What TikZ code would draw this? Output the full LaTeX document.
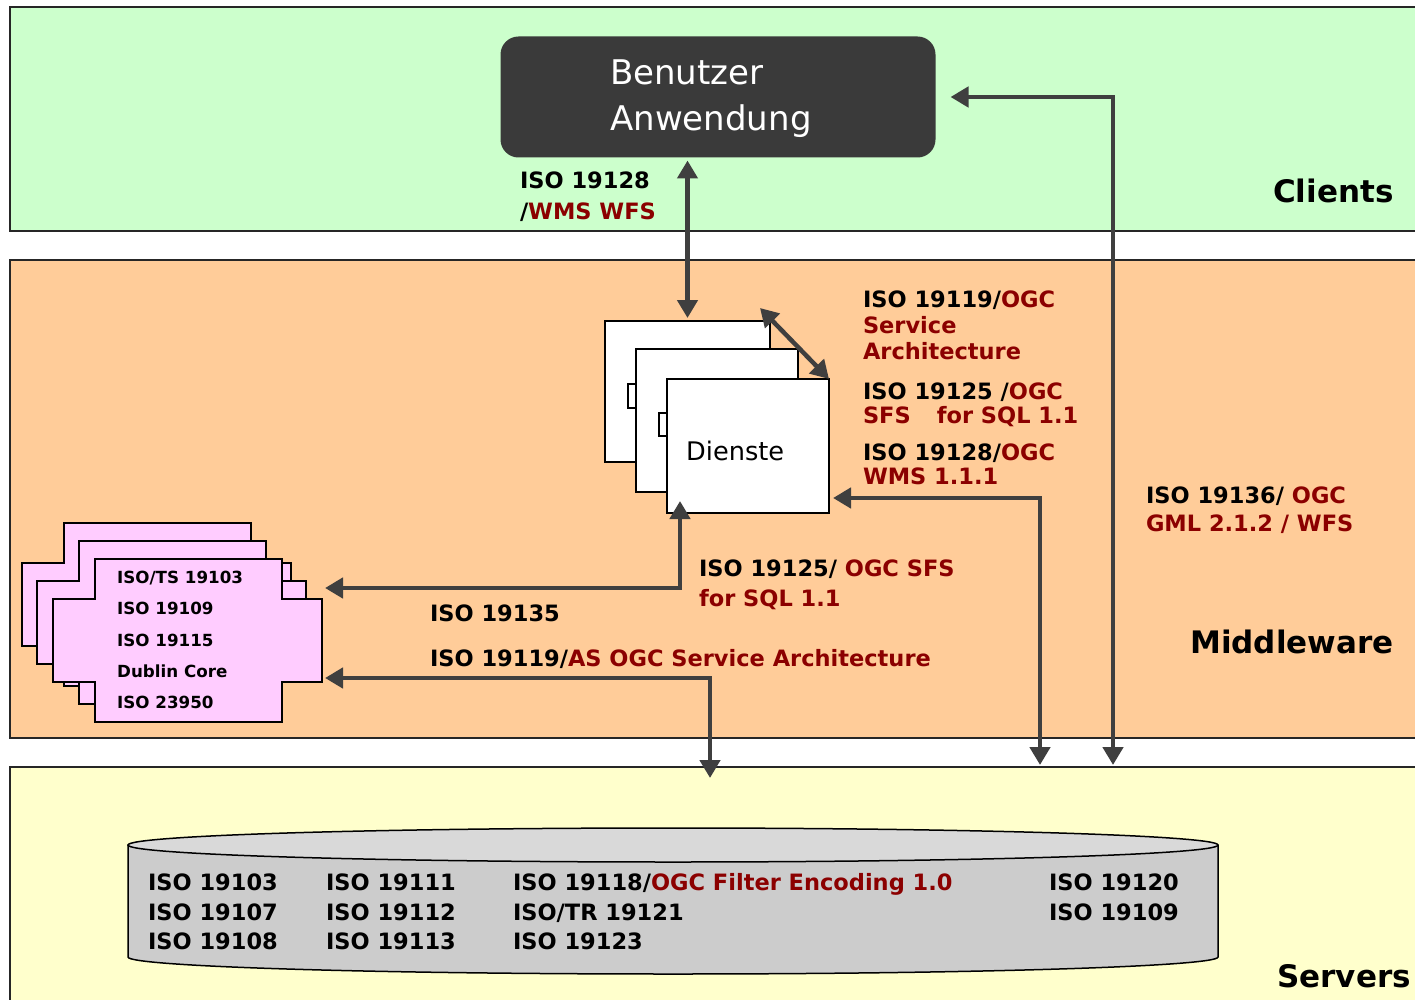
\documentclass[tikz,border=0pt]{standalone}
\usepackage{fontspec}
\setmainfont{DejaVu Sans}
\usetikzlibrary{arrows.meta}
\definecolor{cgreen}{HTML}{CCFFCC}
\definecolor{corange}{HTML}{FFCC99}
\definecolor{cyellow}{HTML}{FFFFCC}
\definecolor{cpink}{HTML}{FFCCFF}
\definecolor{dred}{HTML}{8B0000}
\definecolor{arrowc}{HTML}{3F3F3F}
\definecolor{benc}{HTML}{3A3A3A}
\definecolor{cyltop}{HTML}{D9D9D9}
\definecolor{cylbody}{HTML}{CCCCCC}
\tikzset{
  layerbox/.style={draw=black!85, line width=2pt, anchor=north west, inner sep=0pt, outer sep=0pt},
  dbox/.style={draw=black, line width=2pt, fill=white, inner sep=0pt, outer sep=0pt},
  lbl/.style={anchor=base west, inner sep=0pt, outer sep=0pt, font=\bfseries\fontsize{22.5}{26}\selectfont},
  rl/.style={lbl, text=dred},
  big/.style={anchor=base west, inner sep=0pt, font=\bfseries\fontsize{31}{36}\selectfont},
  pk/.style={anchor=base west, inner sep=0pt, font=\bfseries\fontsize{16.7}{20}\selectfont},
  dbl/.style={draw=arrowc, line width=4.5pt, {Triangle[length=18pt,width=20pt]}-{Triangle[length=18pt,width=20pt]}},
  pinkshape/.style={draw=black, line width=2pt, fill=cpink, line join=miter},
}
\newcommand{\pinkcross}{%
  (95,559) -- (282,559) -- (282,599) -- (322,599) -- (322,682) -- (282,682) -- (282,722) -- (95,722) -- (95,682) -- (53,682) -- (53,599) -- (95,599) -- cycle}
\begin{document}
\begin{tikzpicture}[x=1pt,y=-1pt]
\clip (0,0) rectangle (1415,1000);
\fill[white] (0,0) rectangle (1415,1000);

% layers
\node[layerbox, fill=cgreen, minimum width=1430pt, minimum height=224pt] (clients) at (10,7) {};
\node[layerbox, fill=corange, minimum width=1430pt, minimum height=478pt] (middle) at (10,260) {};
\node[layerbox, fill=cyellow, minimum width=1430pt, minimum height=260pt] (servers) at (10,767) {};

\node[big] (tclients) at (1273,203) {Clients};
\node[big] (tmiddle) at (1190,653) {Middleware};
\node[big] (tservers) at (1277,987) {Servers};

% Benutzer Anwendung
\node[draw=benc, fill=benc, line width=2pt, rounded corners=17pt, minimum width=433pt, minimum height=119pt, inner sep=0pt, outer sep=0pt] (ben) at (718,97) {};
\node[anchor=base west, inner sep=0pt, text=white, font=\fontsize{34}{40}\selectfont] (ben1) at (610,85) {Benutzer};
\node[anchor=base west, inner sep=0pt, text=white, font=\fontsize{34}{40}\selectfont] (ben2) at (610,131) {Anwendung};

% Dienste stack
\node[dbox, minimum width=165pt, minimum height=141pt] (d1) at (687.5,391.5) {};
\draw[line width=2pt, fill=white] (628,384) rectangle (636,408);
\node[dbox, minimum width=162pt, minimum height=143pt] (d2) at (717,420.5) {};
\draw[line width=2pt, fill=white] (659,413) rectangle (667,436);
\node[dbox, minimum width=162pt, minimum height=134pt] (d3) at (748,446) {};
\node[anchor=base west, inner sep=0pt, font=\fontsize{25.6}{30}\selectfont] (dtxt) at (686,460) {Dienste};

% pink metadata stack
\begin{scope}[shift={(-31,-36)}]
  \draw[pinkshape] \pinkcross;
\end{scope}
\begin{scope}[shift={(-16,-18)}]
  \draw[pinkshape] \pinkcross;
\end{scope}
\draw[pinkshape] \pinkcross;
\node[pk] (p1) at (117,583) {ISO/TS 19103};
\node[pk] (p2) at (117,614) {ISO 19109};
\node[pk] (p3) at (117,646) {ISO 19115};
\node[pk] (p4) at (117,677) {Dublin Core};
\node[pk] (p5) at (117,708) {ISO 23950};
\coordinate (pinkA) at (325,588);
\coordinate (pinkB) at (325,678);

% cylinder
\path[fill=cylbody, draw=black, line width=1.5pt] (128,845) -- (128,957) arc[start angle=180, end angle=360, x radius=545pt, y radius=17pt] -- (1218,845);
\path[fill=cyltop, draw=black, line width=1.5pt] (673,845) ellipse[x radius=545pt, y radius=17pt];

\node[lbl] (s1a) at (148,890) {ISO 19103};
\node[lbl] (s1b) at (148,920) {ISO 19107};
\node[lbl] (s1c) at (148,949) {ISO 19108};
\node[lbl] (s2a) at (326,890) {ISO 19111};
\node[lbl] (s2b) at (326,920) {ISO 19112};
\node[lbl] (s2c) at (326,949) {ISO 19113};
\node[lbl] (s3a) at (513,890) {ISO 19118/\textcolor{dred}{OGC Filter Encoding 1.0}};
\node[lbl] (s3b) at (513,920) {ISO/TR 19121};
\node[lbl] (s3c) at (513,949) {ISO 19123};
\node[lbl] (s4a) at (1049,890) {ISO 19120};
\node[lbl] (s4b) at (1049,920) {ISO 19109};

% labels
\node[lbl] (l1a) at (520,189) {ISO 19128};
\node[lbl] (l1b) at (520,220) {/\textcolor{dred}{WMS WFS}};
\node[lbl] (l2a) at (863,307) {ISO 19119/\textcolor{dred}{OGC}};
\node[rl] (l2b) at (863,333) {Service};
\node[rl] (l2c) at (863,359) {Architecture};
\node[lbl] (l3a) at (863,399) {ISO 19125 /\textcolor{dred}{OGC}};
\node[rl] (l3b) at (863,423) {SFS\hspace{26pt}for SQL 1.1};
\node[lbl] (l4a) at (863,460) {ISO 19128/\textcolor{dred}{OGC}};
\node[rl] (l4b) at (863,484) {WMS 1.1.1};
\node[lbl] (l5a) at (1146,503) {ISO 19136/ \textcolor{dred}{OGC}};
\node[rl] (l5b) at (1146,531) {GML 2.1.2 / WFS};
\node[lbl] (l6a) at (699,576) {ISO 19125/ \textcolor{dred}{OGC SFS}};
\node[rl] (l6b) at (699,606) {for SQL 1.1};
\node[lbl] (l7) at (430,621) {ISO 19135};
\node[lbl] (l8) at (430,666) {ISO 19119/\textcolor{dred}{AS OGC Service Architecture}};

% connectors
\draw[dbl, shorten <=4pt, shorten >=3pt] (d1.north |- ben.south) -- (d1.north);
\coordinate (dg) at (760,308);
\draw[dbl] (dg) -- (d3.north east);
\coordinate (rt) at (1113,97);
\draw[dbl, shorten <=16pt, shorten >=2pt] (ben.east) -- (rt) -- (rt |- servers.north);
\coordinate (c2) at (1040,498);
\draw[dbl, shorten <=4pt, shorten >=2pt] (d3.east |- c2) -- (c2) -- (c2 |- servers.north);
\coordinate (c3) at (680,588);
\draw[dbl, shorten <=-12pt] (c3 |- d3.south) -- (c3) -- (pinkA);
\coordinate (c4) at (710,678);
\draw[dbl, shorten >=-11pt] (pinkB) -- (c4) -- (c4 |- servers.north);
\end{tikzpicture}
\end{document}
